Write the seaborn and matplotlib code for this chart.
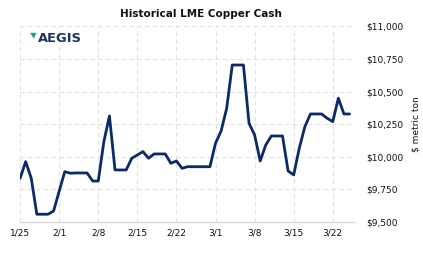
import matplotlib
matplotlib.use("Agg")
import matplotlib.pyplot as plt
from matplotlib.patches import Polygon
import seaborn as sns
import pandas as pd

start_date = "2022-01-25"
prices = [9834, 9962, 9834, 9558, 9558, 9558, 9583, 9735, 9885, 9873,
          9875, 9875, 9875, 9813, 9813, 10115, 10313, 9898, 9898, 9898,
          9988, 10013, 10039, 9988, 10021, 10021, 10021, 9949, 9967, 9911,
          9923, 9923, 9923, 9923, 9923, 10103, 10197, 10372, 10704, 10704,
          10704, 10257, 10167, 9967, 10090, 10159, 10159, 10159, 9890, 9860,
          10065, 10230, 10328, 10328, 10328, 10295, 10269, 10449, 10328, 10328]
tick_dates = ["2022-01-25", "2022-02-01", "2022-02-08", "2022-02-15", "2022-02-22",
              "2022-03-01", "2022-03-08", "2022-03-15", "2022-03-22"]
tick_labels = ["1/25", "2/1", "2/8", "2/15", "2/22", "3/1", "3/8", "3/15", "3/22"]
y_ticks = [9500, 9750, 10000, 10250, 10500, 10750, 11000]
y_labels = ["$9,500", "$9,750", "$10,000", "$10,250", "$10,500", "$10,750", "$11,000"]

df = pd.DataFrame({"date": pd.date_range(start_date, periods=len(prices), freq="D"),
                   "price": prices})

sns.set_style("white")
plt.rcParams["font.family"] = ["DejaVu Sans"]

fig = plt.figure(figsize=(4.23, 2.57), dpi=100)
ax = fig.add_axes([0.0475, 0.137, 0.792, 0.760])

sns.lineplot(data=df, x="date", y="price", ax=ax, color="#0c2a66", linewidth=2.0)

ax.set_xlim(pd.Timestamp("2022-01-25"), pd.Timestamp("2022-03-26"))
ax.set_ylim(9500, 11000)

ax.set_xticks(pd.to_datetime(tick_dates))
ax.set_xticklabels(tick_labels, fontsize=6.5, color="#111111")
ax.set_yticks(y_ticks)
ax.set_yticklabels(y_labels, fontsize=6.5, color="#111111")
ax.yaxis.tick_right()
ax.yaxis.set_label_position("right")
ax.set_ylabel("$ metric ton", fontsize=6.5, color="#111111", labelpad=6)
ax.set_xlabel("")

ax.tick_params(axis="y", length=0, pad=8)
ax.tick_params(axis="x", length=3, width=0.8, color="#333333", pad=2, direction="out")

ax.grid(True, color="#e2e2e2", linestyle=(0, (4, 3)), linewidth=0.8)
for s in ["top", "right", "left"]:
    ax.spines[s].set_visible(False)
ax.spines["bottom"].set_color("#d8d8d8")
ax.spines["bottom"].set_linewidth(1.0)

fig.text(0.475, 0.945, "Historical LME Copper Cash", ha="center", va="center",
         fontsize=7.5, fontweight="bold", color="#111111")

# logo
fig.text(0.089, 0.852, "AEGIS", ha="left", va="center", fontsize=9.4,
         fontweight="bold", color="#1d3560")
fig.patches.append(Polygon([[0.071, 0.872], [0.086, 0.872], [0.080, 0.850]],
                           closed=True, transform=fig.transFigure,
                           facecolor="#1aa56f", edgecolor="none"))

fig.savefig("out.png", dpi=100)
